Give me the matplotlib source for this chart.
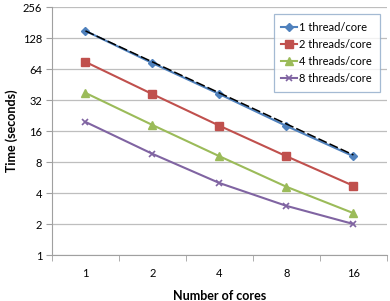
import matplotlib.pyplot as plt
import numpy as np

plt.rcParams['font.family'] = ['Lato', 'DejaVu Sans']

cores = [1, 2, 4, 8, 16]
t1 = [150, 73, 36.5, 17.9, 9.1]
t2 = [75, 36.5, 18, 9.1, 4.7]
t4 = [37.5, 18.3, 9.1, 4.6, 2.55]
t8 = [19.6, 9.6, 5.0, 3.0, 2.0]
ideal = [150, 75, 37.5, 18.75, 9.375]
yticks = [1, 2, 4, 8, 16, 32, 64, 128, 256]

fig = plt.figure(figsize=(3.9, 3.01), dpi=100)
ax = fig.add_axes([0.1333, 0.1528, 0.8587, 0.8239])

x = np.arange(len(cores))
ax.plot(x, t1, color='#4F81BD', marker='D', markersize=4, lw=1.5, label='1 thread/core')
ax.plot(x, t2, color='#C0504D', marker='s', markersize=6, lw=1.5, label='2 threads/core')
ax.plot(x, t4, color='#9BBB59', marker='^', markersize=6, lw=1.5, label='4 threads/core')
ax.plot(x, t8, color='#8064A2', marker='x', markersize=5, mew=1.2, lw=1.5, label='8 threads/core')
ax.plot(x, ideal, color='black', lw=1.1, linestyle=(0, (6, 2)), zorder=5)

ax.set_yscale('log', base=2)
ax.set_ylim(1, 256)
ax.set_yticks(yticks)
ax.set_yticklabels([str(v) for v in yticks])
ax.minorticks_off()
ax.set_xlim(-0.5, 4.5)
ax.set_xticks(x)
ax.set_xticklabels([str(c) for c in cores])
ax.set_xticks(np.arange(-0.5, 5, 1), minor=True)
ax.tick_params(axis='x', which='major', length=0, pad=9, labelsize=8)
ax.tick_params(axis='x', which='minor', length=4, color='#A0A0A0')
ax.tick_params(axis='y', length=4, color='#A0A0A0', labelsize=8, pad=3)

ax.grid(axis='y', color='#BEBEBE', lw=0.9)
ax.set_axisbelow(True)
for s in ['top', 'right']:
    ax.spines[s].set_visible(False)
for s in ['left', 'bottom']:
    ax.spines[s].set_color('#A0A0A0')

ax.set_xlabel('Number of cores', fontsize=9, fontweight='bold', labelpad=8)
ax.set_ylabel('Time (seconds)', fontsize=9, fontweight='bold')
ax.yaxis.set_label_coords(-0.10, 0.5)

leg = ax.legend(loc='upper right', bbox_to_anchor=(0.995, 0.995), fontsize=8, frameon=True,
                fancybox=False, handlelength=1.4, handletextpad=0.2, labelspacing=0.55,
                borderpad=0.7)
leg.get_frame().set_edgecolor('#8EA9C8')
leg.get_frame().set_linewidth(0.9)

fig.savefig('out.png', dpi=100)
